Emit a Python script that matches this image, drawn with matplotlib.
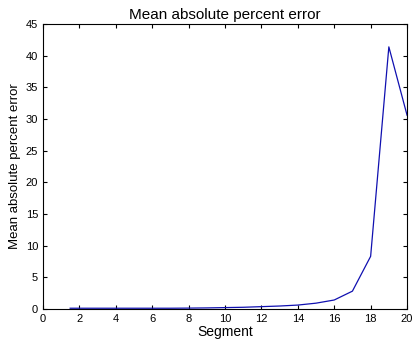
import matplotlib

matplotlib.use("Agg")
import matplotlib.pyplot as plt

plt.rcParams["font.family"] = ["Liberation Sans", "DejaVu Sans"]

# MAPE per segment
segments = [1.5, 2, 3, 4, 5, 6, 7, 8, 9, 10, 11, 12, 13, 14, 15, 16, 17, 18, 19, 20]
mape = [0.1, 0.1, 0.1, 0.1, 0.1, 0.1, 0.1, 0.12, 0.15, 0.2, 0.25, 0.35, 0.45,
        0.6, 0.9, 1.4, 2.8, 8.3, 41.4, 30.6]

xticks = list(range(0, 21, 2))
yticks = list(range(0, 46, 5))

fig = plt.figure(figsize=(4.12, 3.49), dpi=100)
ax = fig.add_axes([0.104, 0.115, 0.884, 0.816])
ax.plot(segments, mape, color="#1010b0", linewidth=0.9)

ax.set_xlim(0, 20)
ax.set_ylim(0, 45)
ax.set_xticks(xticks)
ax.set_yticks(yticks)
ax.tick_params(direction="in", top=True, right=True, labelsize=8, length=3)
ax.set_xlabel("Segment", fontsize=10, labelpad=1)
ax.set_ylabel("Mean absolute percent error", fontsize=9.5, labelpad=3)
ax.set_title("Mean absolute percent error", fontsize=11, pad=4)

fig.savefig("out.png", dpi=100)
